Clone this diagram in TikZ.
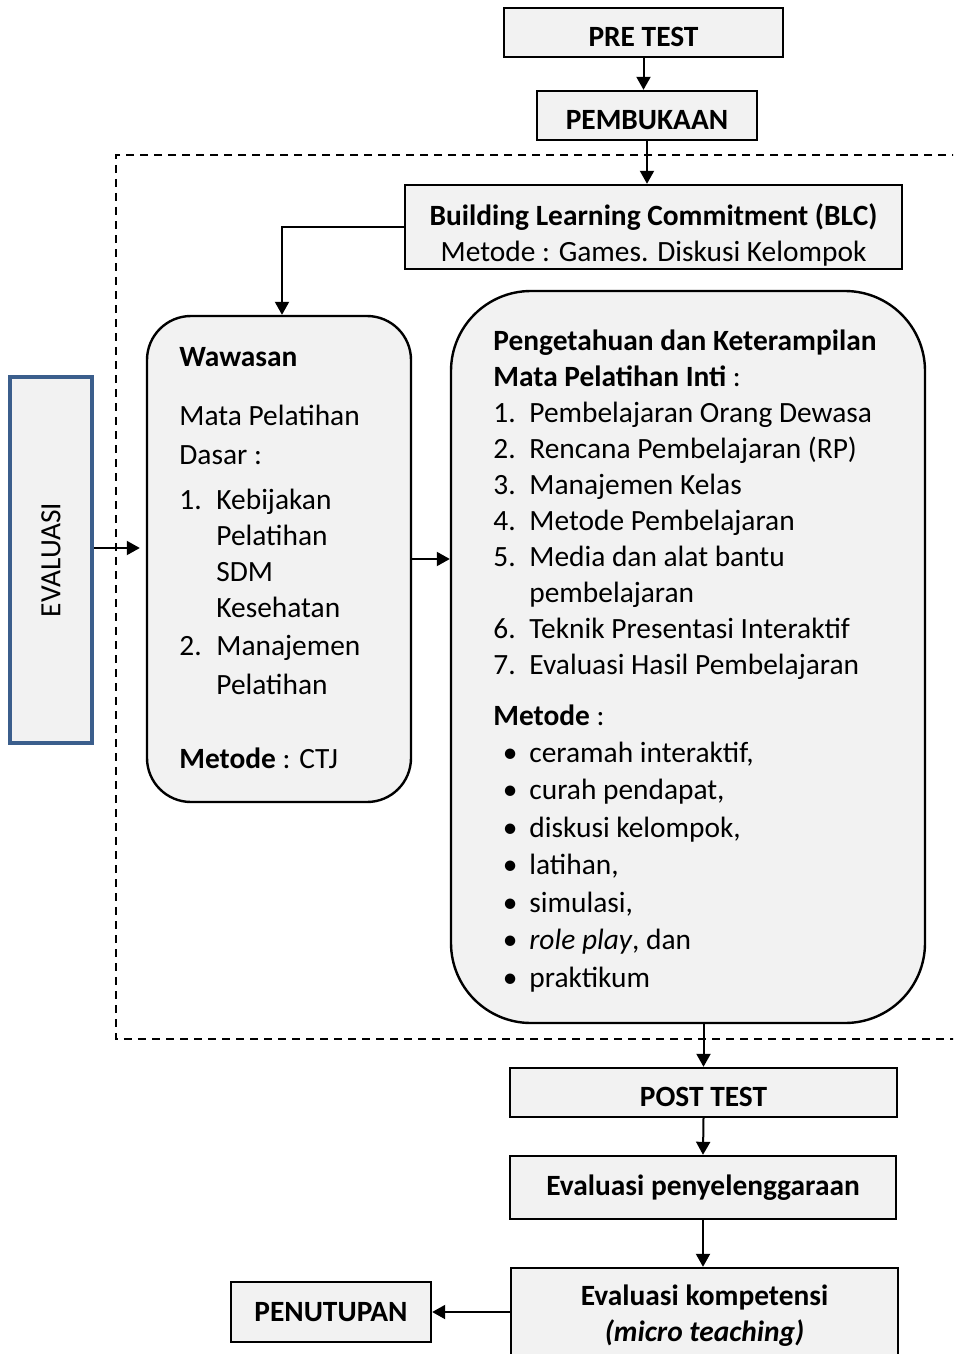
\documentclass[tikz,border=0pt]{standalone}
\usepackage{fontspec}
\setmainfont{Carlito}
\usetikzlibrary{positioning,arrows.meta}
\definecolor{boxgray}{HTML}{F2F2F2}
\definecolor{evalblue}{HTML}{3B5E8C}

\begin{document}
\begin{tikzpicture}[x=0.5pt,y=-0.5pt,
        font=\fontsize{14.7}{18}\selectfont,
        box/.style={draw,line width=1.2pt,fill=boxgray,inner sep=0pt,align=center},
        lowbox/.style={box,text height=14pt,text depth=0pt},
        roundbox/.style={box,rounded corners=#1},
        arr/.style={line width=1pt,-{Triangle[length=6.5pt,width=7pt]}},
        frame/.style={line width=0.9pt,dash pattern=on 4pt off 3pt},
        txt/.style={anchor=north west,align=left,inner sep=0pt}]
        \clip (0,0) rectangle (953,1354);

        % dashed frame round the core part
        \draw[frame] (960,155) -- (116,155) -- (116,1039) -- (960,1039);

        \node [lowbox,minimum width=139.5pt,minimum height=24.5pt] (pretest) at (643.5,32.5) {\textbf{PRE TEST}};
        \node [lowbox,minimum width=110pt,minimum height=24.5pt] (pembukaan) at (647,115.5) {\textbf{PEMBUKAAN}};
        \node [box,minimum width=248.5pt,minimum height=42pt] (blc) at (653.5,227) {};
        \node [align=center,inner sep=0pt] (blctext) at (653.5,235) {\textbf{Building Learning Commitment (BLC)}\\Metode : Games. Diskusi Kelompok};

        \node [roundbox=22pt,minimum width=132pt,minimum height=243pt] (wawasan) at (279,559) {};
        \node [roundbox=40pt,minimum width=237pt,minimum height=366pt] (inti) at (688,657) {};
        \node [box,draw=evalblue,line width=2pt,minimum width=41pt,minimum height=183pt] (evaluasi) at (51,560) {};
        \node [rotate=90] (evaluasilabel) at (evaluasi.center) {EVALUASI};

        \node [txt] (wawasantext) at (179,347) {%
          \textbf{Wawasan}\\[11.5pt]
          Mata Pelatihan\\[1.5pt]
          Dasar :\\[4.5pt]
          \makebox[18.5pt][l]{1.}Kebijakan\\
          \makebox[18.5pt][l]{}Pelatihan\\
          \makebox[18.5pt][l]{}SDM\\
          \makebox[18.5pt][l]{}Kesehatan\\[1pt]
          \makebox[18.5pt][l]{2.}Manajemen\\[1.5pt]
          \makebox[18.5pt][l]{}Pelatihan\\[19pt]
          \textbf{Metode} : CTJ};

        \node [txt] (intitext) at (493,329) {%
          \textbf{Pengetahuan dan Keterampilan}\\
          \textbf{Mata Pelatihan Inti} :\\
          \makebox[18pt][l]{1.}Pembelajaran Orang Dewasa\\
          \makebox[18pt][l]{2.}Rencana Pembelajaran (RP)\\
          \makebox[18pt][l]{3.}Manajemen Kelas\\
          \makebox[18pt][l]{4.}Metode Pembelajaran\\
          \makebox[18pt][l]{5.}Media dan alat bantu\\
          \makebox[18pt][l]{}pembelajaran\\
          \makebox[18pt][l]{6.}Teknik Presentasi Interaktif\\
          \makebox[18pt][l]{7.}Evaluasi Hasil Pembelajaran\\[7.5pt]
          \textbf{Metode} :\\[0.5pt]
          \makebox[18pt][r]{\textbullet\hspace{6pt}}ceramah interaktif,\\[0.75pt]
          \makebox[18pt][r]{\textbullet\hspace{6pt}}curah pendapat,\\[0.75pt]
          \makebox[18pt][r]{\textbullet\hspace{6pt}}diskusi kelompok,\\[0.75pt]
          \makebox[18pt][r]{\textbullet\hspace{6pt}}latihan,\\[0.75pt]
          \makebox[18pt][r]{\textbullet\hspace{6pt}}simulasi,\\[0.75pt]
          \makebox[18pt][r]{\textbullet\hspace{6pt}}\textit{role play}, dan\\[0.75pt]
          \makebox[18pt][r]{\textbullet\hspace{6pt}}praktikum};

        \node [lowbox,minimum width=193.5pt,minimum height=24.5pt] (posttest) at (703.5,1092.5) {\textbf{POST TEST}};
        \node [box,minimum width=193pt,minimum height=31.5pt] (penyelenggaraan) at (703,1187.5) {\textbf{Evaluasi penyelenggaraan}};
        \node [box,minimum width=193.5pt,minimum height=48pt] (kompetensi) at (704.5,1316) {\textbf{Evaluasi kompetensi}\\\textbf{\textit{(micro teaching)}}};
        \node [box,minimum width=100pt,minimum height=30pt] (penutupan) at (331,1312) {\textbf{PENUTUPAN}};

        \draw[arr] (pretest.south) -- (pretest.south |- pembukaan.north);
        \draw[arr] (pembukaan.south) -- (pembukaan.south |- blc.north);
        \draw[arr] (blc.west) -| ([xshift=1.5pt]wawasan.north);
        \draw[arr] (wawasan.east) -- (wawasan.east -| inti.west);
        \draw[arr,shorten >=3pt] ([yshift=6pt]evaluasi.east) -- ([yshift=6pt]evaluasi.east -| wawasan.west);
        \draw[arr] (posttest.north |- inti.south) -- (posttest.north);
        \draw[arr] (posttest.south) -- (penyelenggaraan.north);
        \draw[arr] (penyelenggaraan.south) -- (penyelenggaraan.south |- kompetensi.north);
        \draw[arr] (kompetensi.west |- penutupan.east) -- (penutupan.east);
    \end{tikzpicture}
\end{document}
